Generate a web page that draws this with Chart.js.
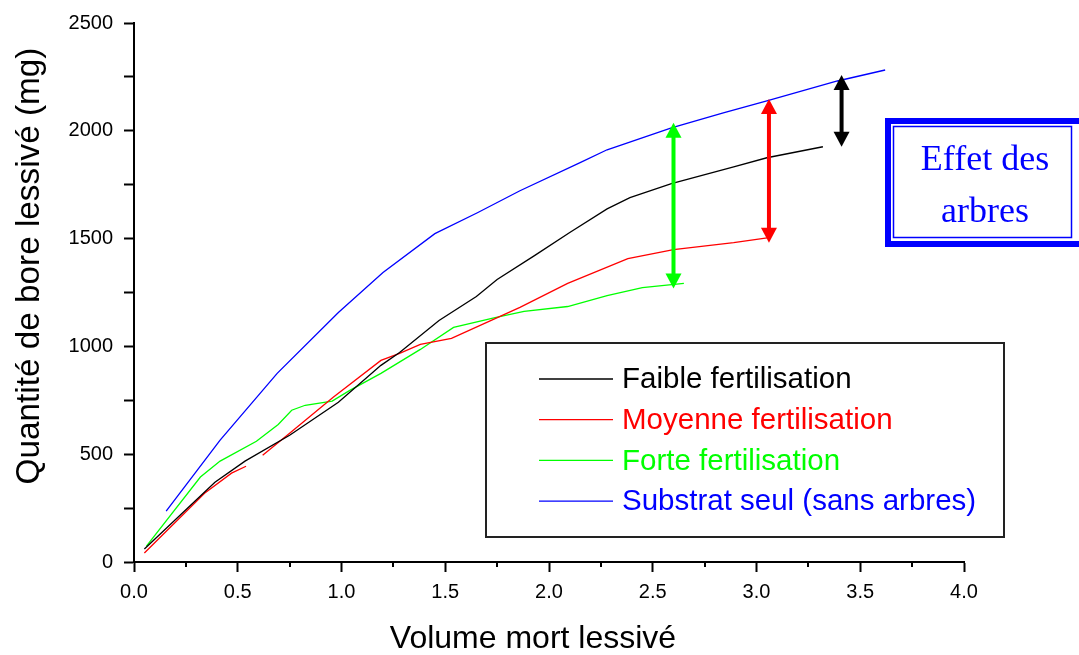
<!DOCTYPE html>
<html>
<head>
<meta charset="utf-8">
<script src="https://cdn.jsdelivr.net/npm/chart.js@4"></script>
<style>
  html, body { margin: 0; padding: 0; background: #fff; }
  #wrap { width: 1079px; height: 655px; }
</style>
</head>
<body>
<div id="wrap"><canvas id="chart" width="1079" height="655"></canvas></div>
<script>
// Data
var faibleX = [0.05, 0.39, 0.535, 0.75, 0.985, 1.19, 1.28, 1.47, 1.65, 1.75, 1.93, 2.10, 2.28, 2.39, 2.59, 2.89, 3.05, 3.32];
var faibleY = [60, 370, 468, 588, 741, 912, 972, 1120, 1231, 1310, 1421, 1528, 1638, 1690, 1755, 1833, 1875, 1926];

// null = gap in the red curve
var moyenneX = [0.05, 0.34, 0.47, 0.54, 0.58, 0.62, 0.75, 0.96, 1.19, 1.28, 1.38, 1.53, 1.86, 2.09, 2.38, 2.60, 2.89, 3.06];
var moyenneY = [42, 319, 412, 444, null, 495, 597, 764, 935, 968, 1009, 1037, 1181, 1292, 1407, 1449, 1481, 1505];

var forteX = [0.06, 0.32, 0.415, 0.59, 0.695, 0.76, 0.825, 0.955, 1.04, 1.19, 1.38, 1.54, 1.74, 1.88, 2.09, 2.28, 2.45, 2.65];
var forteY = [74, 394, 468, 560, 638, 704, 727, 746, 796, 875, 986, 1088, 1134, 1162, 1185, 1236, 1273, 1292];

var substratX = [0.155, 0.415, 0.69, 0.985, 1.20, 1.45, 1.655, 1.86, 2.15, 2.28, 2.59, 2.84, 3.05, 3.39, 3.62];
var substratY = [236, 565, 875, 1157, 1343, 1523, 1620, 1722, 1852, 1912, 2014, 2083, 2139, 2231, 2282];

var SERIES_LABELS = ['Faible fertilisation', 'Moyenne fertilisation', 'Forte fertilisation', 'Substrat seul (sans arbres)'];
var SERIES_COLORS = ['#000000', '#ff0000', '#00ff00', '#0000ff'];

// double arrows "effet des arbres"
var arrowX = [2.6, 3.06, 3.41];
var arrowTop = [2037, 2148, 2259];
var arrowBottom = [1269, 1481, 1926];
var arrowColors = ['#00ff00', '#ff0000', '#000000'];

var BOX_TEXT = ['Effet des', 'arbres'];
var X_TITLE = 'Volume mort lessivé';
var Y_TITLE = 'Quantité de bore lessivé (mg)';

var SANS = "'Liberation Sans', Arial, sans-serif";
var SERIF = "'Liberation Serif', 'Times New Roman', serif";

function toPoints(xs, ys) {
    var pts = [];
    for (var i = 0; i < xs.length; i++) {
        pts.push({x: xs[i], y: ys[i]});
    }
    return pts;
}

function isMajor(v, step) {
    var r = v / step;
    return Math.abs(r - Math.round(r)) < 1e-6;
}

var arrowsPlugin = {
    id: 'arrows',
    afterDatasetsDraw: function(chart) {
        var ctx = chart.ctx;
        var xs = chart.scales.x, ys = chart.scales.y;
        ctx.save();
        for (var i = 0; i < arrowX.length; i++) {
            var px = xs.getPixelForValue(arrowX[i]);
            var top = ys.getPixelForValue(arrowTop[i]);
            var bot = ys.getPixelForValue(arrowBottom[i]);
            var hw = 8, hh = 15;
            ctx.strokeStyle = arrowColors[i];
            ctx.fillStyle = arrowColors[i];
            ctx.lineWidth = 4;
            ctx.beginPath();
            ctx.moveTo(px, top + hh - 1);
            ctx.lineTo(px, bot - hh + 1);
            ctx.stroke();
            ctx.beginPath();
            ctx.moveTo(px, top);
            ctx.lineTo(px - hw, top + hh);
            ctx.lineTo(px + hw, top + hh);
            ctx.closePath();
            ctx.fill();
            ctx.beginPath();
            ctx.moveTo(px, bot);
            ctx.lineTo(px - hw, bot - hh);
            ctx.lineTo(px + hw, bot - hh);
            ctx.closePath();
            ctx.fill();
        }
        ctx.restore();
    }
};

var extrasPlugin = {
    id: 'extras',
    afterDraw: function(chart) {
        var ctx = chart.ctx;
        var xs = chart.scales.x;
        ctx.save();

        // short minor ticks on x axis
        ctx.strokeStyle = '#000';
        ctx.lineWidth = 2;
        xs.ticks.forEach(function(t) {
            if (!isMajor(t.value, 0.5)) {
                var p = Math.round(xs.getPixelForValue(t.value));
                ctx.beginPath();
                ctx.moveTo(p, chart.chartArea.bottom);
                ctx.lineTo(p, chart.chartArea.bottom + 5);
                ctx.stroke();
            }
        });

        // axis titles (not centred on the plot in the original)
        ctx.fillStyle = '#000';
        ctx.textAlign = 'center';
        ctx.textBaseline = 'alphabetic';
        ctx.font = '32px ' + SANS;
        ctx.fillText(X_TITLE, 533, 648);
        ctx.save();
        ctx.translate(39, 266);
        ctx.rotate(-Math.PI / 2);
        ctx.font = '33.3px ' + SANS;
        ctx.fillText(Y_TITLE, 0, 0);
        ctx.restore();

        // legend box
        ctx.fillStyle = '#fff';
        ctx.fillRect(486, 343, 518, 194);
        ctx.strokeStyle = '#222';
        ctx.lineWidth = 2;
        ctx.strokeRect(486, 343, 518, 194);
        ctx.font = '29.5px ' + SANS;
        ctx.textBaseline = 'middle';
        ctx.textAlign = 'left';
        chart.data.datasets.forEach(function(ds, i) {
            var y = 379 + i * 40.7;
            ctx.strokeStyle = ds.borderColor;
            ctx.lineWidth = 1.3;
            ctx.beginPath();
            ctx.moveTo(539, y);
            ctx.lineTo(613, y);
            ctx.stroke();
            ctx.fillStyle = ds.borderColor;
            ctx.fillText(ds.label, 622, y + 1);
        });

        // "Effet des arbres" framed box
        ctx.strokeStyle = '#0000ff';
        ctx.lineWidth = 6;
        ctx.strokeRect(888, 121, 195, 123);
        ctx.lineWidth = 1.5;
        ctx.strokeRect(893.5, 126.5, 178, 111);
        ctx.fillStyle = '#0000ff';
        ctx.font = '36px ' + SERIF;
        ctx.textAlign = 'center';
        ctx.textBaseline = 'alphabetic';
        ctx.fillText(BOX_TEXT[0], 985, 170);
        ctx.fillText(BOX_TEXT[1], 985, 222);

        ctx.restore();
    }
};

var datasets = [
    toPoints(faibleX, faibleY),
    toPoints(moyenneX, moyenneY),
    toPoints(forteX, forteY),
    toPoints(substratX, substratY)
].map(function(pts, i) {
    return {
        label: SERIES_LABELS[i],
        data: pts,
        borderColor: SERIES_COLORS[i],
        backgroundColor: SERIES_COLORS[i],
        borderWidth: 1.3,
        pointRadius: 0,
        tension: 0,
        spanGaps: false,
        fill: false
    };
});

var chart = new Chart(document.getElementById('chart'), {
    type: 'line',
    data: {datasets: datasets},
    options: {
        responsive: false,
        animation: false,
        layout: {padding: {left: 0, top: 22, right: 115, bottom: 0}},
        plugins: {
            legend: {display: false},
            tooltip: {enabled: false}
        },
        scales: {
            x: {
                type: 'linear',
                min: 0,
                max: 4,
                border: {color: '#000', width: 2},
                grid: {
                    drawOnChartArea: false,
                    tickLength: 10,
                    tickWidth: 2,
                    tickColor: function(c) {
                        return c.tick && isMajor(c.tick.value, 0.5) ? '#000' : 'rgba(0,0,0,0)';
                    }
                },
                ticks: {
                    stepSize: 0.25,
                    autoSkip: false,
                    maxRotation: 0,
                    padding: 8,
                    color: '#000',
                    font: {family: SANS, size: 20},
                    callback: function(v) { return isMajor(v, 0.5) ? v.toFixed(1) : ''; }
                },
                title: {display: false},
                afterFit: function(s) { s.height = 93; }
            },
            y: {
                min: 0,
                max: 2500,
                border: {color: '#000', width: 2},
                grid: {
                    drawOnChartArea: false,
                    tickLength: 10,
                    tickWidth: 2,
                    tickColor: '#000'
                },
                ticks: {
                    stepSize: 250,
                    autoSkip: false,
                    padding: 11,
                    color: '#000',
                    font: {family: SANS, size: 20},
                    callback: function(v) { return isMajor(v, 500) ? String(v) : ''; }
                },
                title: {display: false},
                afterFit: function(s) { s.width = 134; }
            }
        }
    },
    plugins: [arrowsPlugin, extrasPlugin]
});
</script>
</body>
</html>
